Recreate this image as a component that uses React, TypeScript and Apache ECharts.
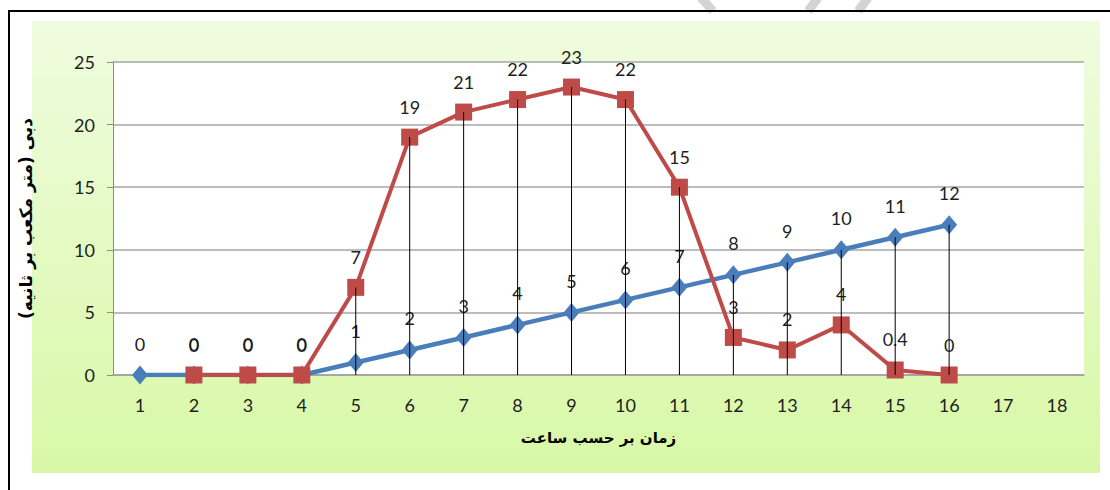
import React, { useEffect, useRef } from "react";
import * as echarts from "echarts";

// Hours on the horizontal axis
const hours = ["1", "2", "3", "4", "5", "6", "7", "8", "9", "10", "11", "12", "13", "14", "15", "16", "17", "18"];
// Base flow (blue diamonds)
const baseFlow: (number | null)[] = [0, 0, 0, 0, 1, 2, 3, 4, 5, 6, 7, 8, 9, 10, 11, 12, null, null];
// Flood hydrograph (red squares)
const floodFlow: (number | null)[] = [null, 0, 0, 0, 7, 19, 21, 22, 23, 22, 15, 3, 2, 4, 0.4, 0, null, null];
// Value axis ticks
const yMin = 0;
const yMax = 25;
const yStep = 5;

const xName = "زمان بر حسب ساعت";
const yName = "دبی (متر مکعب بر ثانیه)";

const numFont = "Lato, 'Open Sans', sans-serif";
const nameFont = "'DejaVu Sans', sans-serif";

export default function App() {
  const ref = useRef<HTMLDivElement>(null);

  useEffect(() => {
    if (!ref.current) return;
    const chart = echarts.init(ref.current, undefined, { renderer: "svg" });

    // drop lines from the higher of the two series down to the axis
    const drops = hours
      .map((_, i) => {
        const vals = [baseFlow[i], floodFlow[i]].filter((v) => v != null) as number[];
        return vals.length ? [i, Math.max(...vals)] : null;
      })
      .filter((d) => d && d[1] > 0) as number[][];

    const label = {
      show: true,
      position: "top" as const,
      distance: 13,
      color: "#1e1e1e",
      fontFamily: numFont,
      fontSize: 18,
    };

    const mark = (x1: number, x2: number) => ({
      type: "line",
      z: -95,
      silent: true,
      shape: { x1, y1: -2, x2, y2: 11 },
      style: { stroke: "#d4d4d4", lineWidth: 9, lineCap: "butt" },
    });

    chart.setOption({
      animation: false,
      graphic: {
        elements: [
          {
            type: "rect",
            z: -100,
            silent: true,
            shape: { x: 32, y: 21, width: 1068, height: 452 },
            style: {
              fill: new echarts.graphic.LinearGradient(0, 0, 0, 1, [
                { offset: 0, color: "#effcdf" },
                { offset: 1, color: "#d8f8a6" },
              ]),
            },
          },
          mark(701, 713),
          mark(818, 808),
          mark(868, 858),
          {
            type: "rect",
            z: -90,
            silent: true,
            shape: { x: 9, y: 11, width: 1200, height: 600 },
            style: { fill: "none", stroke: "#000", lineWidth: 2 },
          },
        ],
      },
      grid: {
        left: 113,
        top: 62,
        right: 26,
        bottom: 115,
        show: true,
        backgroundColor: "#ffffff",
        borderWidth: 0,
      },
      xAxis: {
        type: "category",
        data: hours,
        boundaryGap: true,
        name: xName,
        nameLocation: "middle",
        nameGap: 55,
        nameTextStyle: {
          fontFamily: nameFont,
          fontWeight: "bold",
          fontSize: 15,
          color: "#000",
        },
        axisLine: { show: true, lineStyle: { color: "#a0a0a0", width: 1.5 } },
        axisTick: { show: false },
        axisLabel: {
          margin: 21,
          color: "#1e1e1e",
          fontFamily: numFont,
          fontSize: 18,
        },
        splitLine: { show: false },
      },
      yAxis: {
        type: "value",
        min: yMin,
        max: yMax,
        interval: yStep,
        name: yName,
        nameLocation: "middle",
        nameRotate: 90,
        nameGap: 79,
        nameTextStyle: {
          fontFamily: nameFont,
          fontWeight: "bold",
          fontSize: 17,
          color: "#000",
        },
        axisLine: { show: true, lineStyle: { color: "#8c8c8c", width: 1 } },
        axisTick: { show: true, length: 6, lineStyle: { color: "#8c8c8c" } },
        axisLabel: {
          margin: 18,
          color: "#1e1e1e",
          fontFamily: numFont,
          fontSize: 18,
        },
        splitLine: { show: true, lineStyle: { color: "#a6a6a6", width: 1.5 } },
      },
      series: [
        {
          type: "line",
          data: baseFlow,
          symbol: "diamond",
          symbolSize: [16, 19],
          lineStyle: { color: "#4a7ebb", width: 4.5 },
          itemStyle: { color: "#4a7ebb" },
          label,
          z: 2,
        },
        {
          type: "line",
          data: floodFlow,
          symbol: "rect",
          symbolSize: 17,
          lineStyle: { color: "#be4b48", width: 4 },
          itemStyle: { color: "#be4b48" },
          label,
          z: 3,
        },
        {
          type: "custom",
          data: drops,
          z: 5,
          silent: true,
          renderItem: (params: any, api: any) => {
            const top = api.coord([api.value(0), api.value(1)]);
            const bottom = api.coord([api.value(0), 0]);
            return {
              type: "line",
              shape: { x1: top[0], y1: top[1], x2: bottom[0], y2: bottom[1] },
              style: { stroke: "#000", lineWidth: 1 },
            };
          },
        },
      ],
    });

    return () => chart.dispose();
  }, []);

  return (
    <div
      ref={ref}
      style={{ position: "fixed", left: 0, top: 0, width: 1110, height: 490, background: "#fff" }}
    />
  );
}
